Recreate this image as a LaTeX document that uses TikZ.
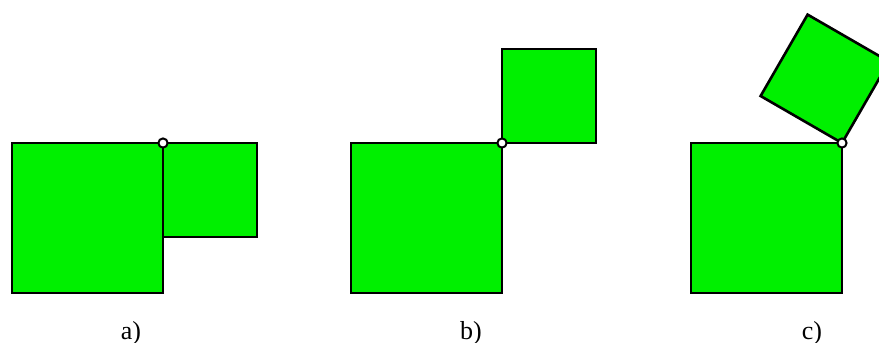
\documentclass[tikz,border=0pt]{standalone}
\usepackage{fontspec}
\setmainfont{Liberation Serif}
\usepackage{tikz}
\definecolor{platefill}{RGB}{0,240,0}

\begin{document}
\begin{tikzpicture}[x=1pt,y=-1pt,
    plate/.style={draw=black,fill=platefill,line width=2.6pt,line join=miter},
    hinge/.style={draw=black,fill=white,line width=2pt},
    caption/.style={anchor=base,inner sep=0pt,font=\fontsize{26}{30}\selectfont}]
    \useasboundingbox (0,0) rectangle (879,343);
    % a)
    \draw[plate] (163,143) rectangle (257,237);
    \draw[plate] (12,143) rectangle (163,293);
    \draw[hinge] (163,143) circle (4.6);
    \node[caption] (capa) at (131,339) {a)};
    % b)
    \draw[plate] (502,143) rectangle (596,49);
    \draw[plate] (351,143) rectangle (502,293);
    \draw[hinge] (502,143) circle (4.6);
    \node[caption] (capb) at (471,339) {b)};
    % c)
    \draw[plate] (842,143) -- ++(-81.4,-47) -- ++(47,-81.4) -- ++(81.4,47) -- cycle;
    \draw[plate] (691,143) rectangle (842,293);
    \draw[hinge] (842,143) circle (4.6);
    \node[caption] (capc) at (812,339) {c)};
\end{tikzpicture}
\end{document}
